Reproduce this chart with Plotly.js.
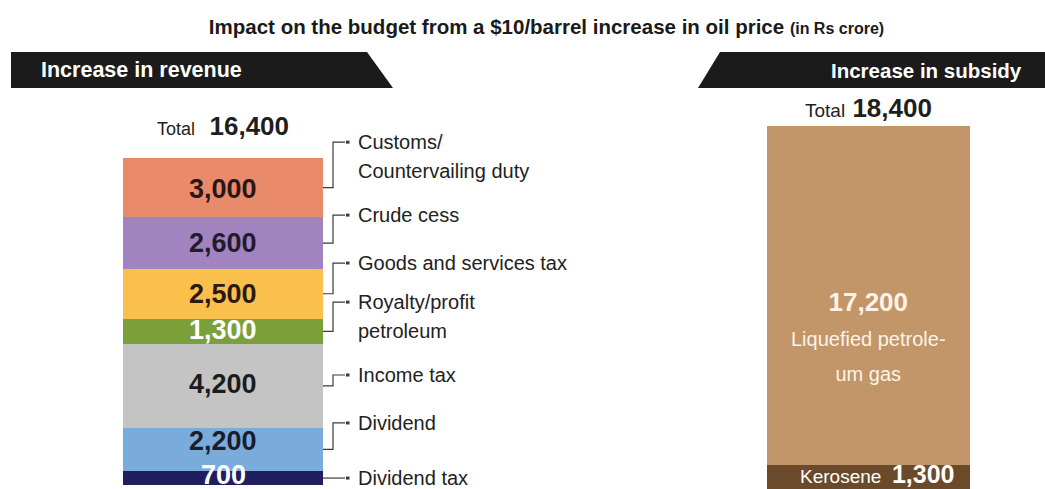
<!DOCTYPE html>
<html><head><meta charset="utf-8">
<script src="https://cdn.plot.ly/plotly-3.0.1.min.js"></script>
<style>html,body{margin:0;padding:0;background:#fff}</style>
</head><body><div id="chart" style="width:1045px;height:489px"></div>
<script>
// ---- data ----
const revenueItems = ["Dividend tax","Dividend","Income tax","Royalty/profit petroleum","Goods and services tax","Crude cess","Customs/Countervailing duty"];
const revenueValues = [700, 2200, 4200, 1300, 2500, 2600, 3000];
const revenueLabels = ["Dividend tax","Dividend","Income tax","Royalty/profit<br>petroleum","Goods and services tax","Crude cess","Customs/<br>Countervailing duty"];
const revenueTotal = 16400;
const subsidyItems = ["Kerosene","Liquefied petroleum gas"];
const subsidyLabels = ["Kerosene","Liquefied petrole-<br>um gas"];
const subsidyValues = [1300, 17200];
const subsidyTotal = 18400;
const titleText = "Impact on the budget from a $10/barrel increase in oil price";
const unitText = "(in Rs crore)";

// ---- styles / layout ----
const W = 1045, H = 489;
const FONT = "Liberation Sans, Arial, sans-serif";
const revenueColors = ["#1f1f5e","#79acdb","#c4c4c4","#7ba03a","#fbbf4c","#a183c0","#e98a6b"];
const revenueTextColors = ["#ffffff","#1c1c2c","#1c1c1c","#ffffff","#2a1a10","#231a2c","#2a1614"];
const valueShifts = [3, 8, 2, 1, 0, 0, -1];               // px nudges of in-bar value text
const labelOffsets = [0, 1330, 550, 1480, 1550, 1420, 2300]; // label line vs segment middle (axis units)
const subsidyColors = ["#6b4a2c","#c39669"];
const px = x => x / W;
const py = y => 1 - y / H;

const fmt = v => v.toLocaleString("en-US");

const traces = [];
revenueValues.forEach((v, i) => {
  traces.push({
    type: "bar", x: ["Revenue"], y: [v], name: revenueItems[i],
    xaxis: "x", yaxis: "y",
    marker: {color: revenueColors[i], line: {width: 0}},
    textposition: "none",
    hoverinfo: "skip", showlegend: false
  });
});
subsidyValues.forEach((v, i) => {
  traces.push({
    type: "bar", x: ["Subsidy"], y: [v], name: subsidyItems[i],
    xaxis: "x2", yaxis: "y2",
    marker: {color: subsidyColors[i], line: {width: 0}},
    textposition: "none",
    hoverinfo: "skip", showlegend: false
  });
});

const shapes = [];
const annotations = [];

// header banners
shapes.push({type: "path", xref: "paper", yref: "paper", line: {width: 0}, fillcolor: "#1b1b1b",
  path: `M ${px(11)},${py(52)} L ${px(367)},${py(52)} L ${px(393)},${py(88)} L ${px(11)},${py(88)} Z`});
shapes.push({type: "path", xref: "paper", yref: "paper", line: {width: 0}, fillcolor: "#1b1b1b",
  path: `M ${px(720)},${py(52)} L ${px(1045)},${py(52)} L ${px(1045)},${py(88)} L ${px(698)},${py(88)} Z`});
annotations.push({xref: "paper", yref: "paper", x: px(39), y: py(70), xanchor: "left", yanchor: "middle",
  text: "<b>Increase in revenue</b>", showarrow: false, font: {family: FONT, size: 21.5, color: "#fff"}});
annotations.push({xref: "paper", yref: "paper", x: px(1024), y: py(70), xanchor: "right", yanchor: "middle",
  text: "<b>Increase in subsidy</b>", showarrow: false, font: {family: FONT, size: 20.5, color: "#fff"}});

// in-bar values, brackets + labels
let cum = 0;
const lineCol = "#3a3a3a";
revenueValues.forEach((v, i) => {
  const mid = cum + v / 2;
  cum += v;
  annotations.push({xref: "x", yref: "y", x: "Revenue", y: mid, yanchor: "middle", yshift: valueShifts[i],
    showarrow: false, text: `<b>${fmt(v)}</b>`,
    font: {family: FONT, size: 27, color: revenueTextColors[i]}});
  const ly = mid + labelOffsets[i];
  if (labelOffsets[i] === 0) {
    shapes.push({type: "line", xref: "paper", yref: "y", x0: px(323), x1: px(345), y0: mid, y1: mid, line: {color: lineCol, width: 1.2}});
  } else {
    shapes.push({type: "path", xref: "paper", yref: "y", line: {color: lineCol, width: 1.2},
      path: `M ${px(323)},${mid} L ${px(333)},${mid} L ${px(333)},${ly} L ${px(345)},${ly}`});
  }
  shapes.push({type: "line", xref: "paper", yref: "y", x0: px(346), x1: px(349.5), y0: ly, y1: ly, line: {color: lineCol, width: 3}});
  const nLines = revenueLabels[i].split("<br>").length;
  const lbl = revenueLabels[i].split("<br>").map(s => `<span style="font-size:20px">${s}</span>`).join("<br>");
  annotations.push({xref: "paper", yref: "y", x: px(356), y: ly, xanchor: "left", yanchor: "middle",
    yshift: -(nLines - 1) * 14.5, text: lbl, showarrow: false, align: "left",
    font: {family: FONT, size: 22.5, color: "#222"}});
});

const revTop = revenueValues.reduce((a, b) => a + b, 0);
const subTop = subsidyValues.reduce((a, b) => a + b, 0);
annotations.push({xref: "x", yref: "y", x: "Revenue", y: revTop, yanchor: "bottom", yshift: 15, showarrow: false,
  text: `<span style="font-size:18px">Total</span>  <b>${fmt(revenueTotal)}</b>`, font: {family: FONT, size: 26, color: "#1e1e1e"}});
annotations.push({xref: "x2", yref: "y2", x: "Subsidy", y: subTop, yanchor: "bottom", yshift: 1, showarrow: false,
  text: `<span style="font-size:19px">Total</span> <b>${fmt(subsidyTotal)}</b>`, font: {family: FONT, size: 26, color: "#1e1e1e"}});

// subsidy inner texts
const lpgLines = subsidyLabels[1].split("<br>").map(s => `<span style="font-size:20px">${s}</span>`).join("<br>");
annotations.push({xref: "x2", yref: "y2", x: "Subsidy", y: subsidyValues[0] + subsidyValues[1] / 2, yanchor: "middle", yshift: -41,
  showarrow: false, align: "center",
  text: `<b><span style="font-size:26px">${fmt(subsidyValues[1])}</span></b><br>${lpgLines}`,
  font: {family: FONT, size: 27, color: "#fbf3e6"}});
annotations.push({xref: "x2", yref: "y2", x: "Subsidy", y: subsidyValues[0] / 2, yanchor: "middle", xshift: 8, yshift: 4, showarrow: false,
  text: `${subsidyLabels[0]}  <b><span style="font-size:25px">${fmt(subsidyValues[0])}</span></b>`,
  font: {family: FONT, size: 19, color: "#ffffff"}});

const layout = {
  width: W, height: H,
  margin: {l: 0, r: 0, t: 0, b: 0},
  paper_bgcolor: "#fff", plot_bgcolor: "rgba(0,0,0,0)",
  barmode: "stack", bargap: 0,
  font: {family: FONT},
  title: {text: `<b>${titleText}</b> <b><span style="font-size:16px">${unitText}</span></b>`,
    x: 546.5 / W, xanchor: "center", y: py(27), yanchor: "middle", yref: "container",
    font: {family: FONT, size: 20.5, color: "#1a1a1a"}},
  xaxis: {domain: [px(123), px(323)], visible: false, fixedrange: true},
  yaxis: {domain: [0, 1], range: [-202, 24472], visible: false, fixedrange: true},
  xaxis2: {domain: [px(767), px(970)], anchor: "y2", visible: false, fixedrange: true},
  yaxis2: {domain: [0, 1], range: [81, 24890], anchor: "x2", visible: false, fixedrange: true},
  shapes: shapes, annotations: annotations, showlegend: false
};
Plotly.newPlot("chart", traces, layout, {staticPlot: true, displayModeBar: false});
</script></body></html>
